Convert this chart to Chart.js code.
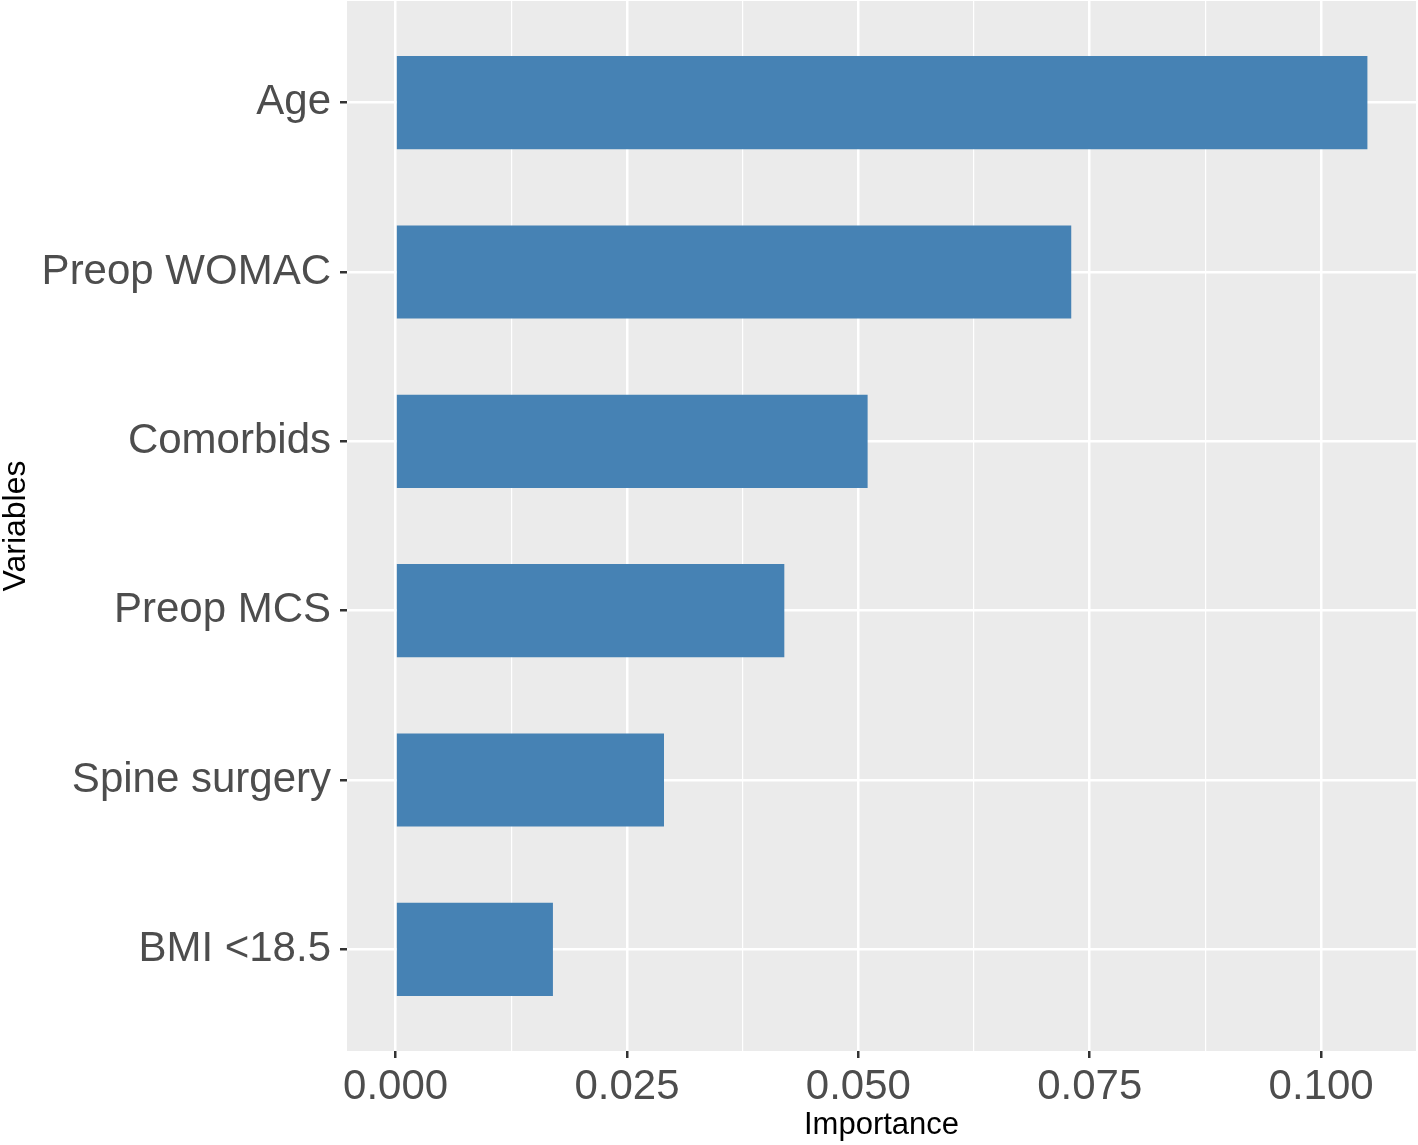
<!DOCTYPE html>
<html>
<head>
<meta charset="utf-8">
<script src="https://cdn.jsdelivr.net/npm/chart.js@4.4.1/dist/chart.umd.min.js"></script>
<style>
  html, body { margin: 0; padding: 0; background: #ffffff; }
  canvas { display: block; }
</style>
</head>
<body>
<canvas id="c" width="1418" height="1145"></canvas>
<script>
// Categories, top to bottom
const categories = ["Age", "Preop WOMAC", "Comorbids", "Preop MCS", "Spine surgery", "BMI <18.5"];
// Importance values
const importance = [0.105, 0.073, 0.051, 0.042, 0.029, 0.017];
// X axis ticks
const xMajorTicks = [0, 0.025, 0.05, 0.075, 0.1];
const xTickLabels = ["0.000", "0.025", "0.050", "0.075", "0.100"];
const xMinorTicks = [0.0125, 0.0375, 0.0625, 0.0875];

const FONT = "'Liberation Sans', Arial, Helvetica, sans-serif";
Chart.defaults.font.family = FONT;

const isMajor = v => xMajorTicks.some(m => Math.abs(m - v) < 1e-9);
const majorLabel = v => {
  const i = xMajorTicks.findIndex(m => Math.abs(m - v) < 1e-9);
  return i >= 0 ? xTickLabels[i] : '';
};

const panelBg = {
  id: 'panelBg',
  beforeDraw(chart) {
    const { ctx, chartArea: a } = chart;
    ctx.save();
    ctx.fillStyle = '#EBEBEB';
    ctx.fillRect(a.left, a.top, a.right - a.left, a.bottom - a.top);
    ctx.restore();
  }
};

new Chart(document.getElementById('c'), {
  type: 'bar',
  data: {
    datasets: [{
      data: categories.map((c, i) => ({ x: importance[i], y: i + 1 })),
      backgroundColor: '#4682B4',
      borderWidth: 0,
      barPercentage: 0.55,
      categoryPercentage: 1.0
    }]
  },
  options: {
    indexAxis: 'y',
    responsive: false,
    animation: false,
    devicePixelRatio: 1,
    layout: { padding: { top: 1, right: 2, left: 0, bottom: 0 } },
    plugins: { legend: { display: false }, tooltip: { enabled: false } },
    scales: {
      x: {
        type: 'linear',
        position: 'bottom',
        min: -0.00525,
        max: 0.11025,
        offset: false,
        afterBuildTicks: s => {
          s.ticks = xMajorTicks.concat(xMinorTicks).sort((a, b) => a - b).map(v => ({ value: v }));
        },
        afterFit: s => { s.height = 94; s.paddingLeft = 0; s.paddingRight = 0; },
        border: { display: false },
        grid: {
          offset: false,
          color: '#FFFFFF',
          lineWidth: c => isMajor(c.tick.value) ? 2.5 : 1.2,
          drawTicks: true,
          tickLength: 7,
          tickColor: c => isMajor(c.tick.value) ? '#333333' : 'rgba(0,0,0,0)',
          tickWidth: 2.5
        },
        ticks: {
          autoSkip: false,
          maxRotation: 0,
          minRotation: 0,
          padding: 4,
          color: '#4D4D4D',
          font: { size: 42, family: FONT },
          callback: v => majorLabel(v)
        },
        title: {
          display: true,
          text: 'Importance',
          color: '#000000',
          font: { size: 31, family: FONT, lineHeight: 1 },
          padding: { top: 0, bottom: 4.5 }
        }
      },
      y: {
        type: 'linear',
        position: 'left',
        reverse: true,
        min: 0.4,
        max: 6.6,
        offset: false,
        afterBuildTicks: s => {
          s.ticks = categories.map((c, i) => ({ value: i + 1 }));
        },
        afterFit: s => { s.width = 347; s.paddingTop = 0; s.paddingBottom = 0; },
        border: { display: false },
        grid: {
          offset: false,
          color: '#FFFFFF',
          lineWidth: 2.5,
          drawTicks: true,
          tickLength: 7,
          tickColor: '#333333',
          tickWidth: 2.5
        },
        ticks: {
          autoSkip: false,
          padding: 9,
          color: '#4D4D4D',
          font: { size: 42, family: FONT },
          callback: v => categories[Math.round(v) - 1] || ''
        },
        title: {
          display: true,
          text: 'Variables',
          color: '#000000',
          font: { size: 32, family: FONT, lineHeight: 1 },
          padding: { top: 0, bottom: 0 }
        }
      }
    }
  },
  plugins: [panelBg]
});
</script>
</body>
</html>
